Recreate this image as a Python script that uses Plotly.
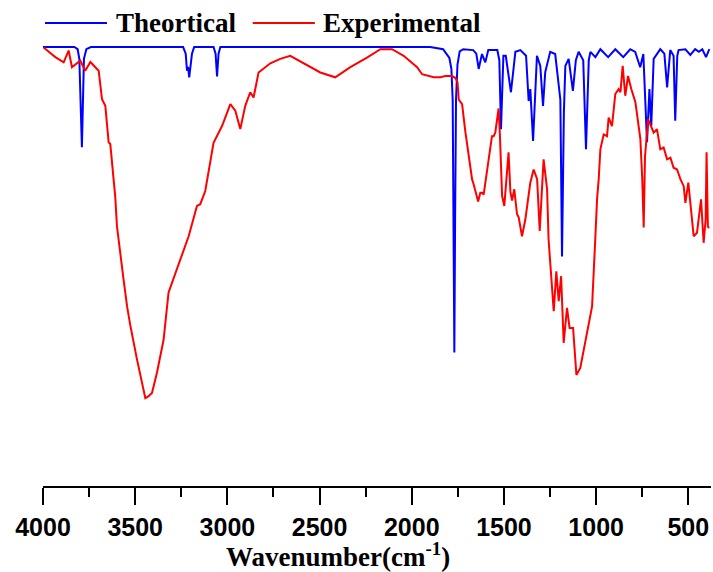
import plotly.graph_objects as go

# Theoretical spectrum (wavenumber cm-1, transmittance %)
theo_wn = [4000, 3830, 3812, 3803, 3789, 3778, 3765, 3740,
           3240, 3226, 3219, 3213, 3207, 3200, 3192, 3180,
           3075, 3064, 3056, 3048, 3038,
           1900, 1830, 1796, 1785, 1778, 1772, 1769, 1765, 1760, 1752, 1740, 1721,
           1667, 1650, 1637, 1619, 1601, 1585, 1536, 1525, 1516, 1503, 1490,
           1462, 1438, 1411, 1380, 1366, 1357, 1342, 1321, 1303, 1288, 1276,
           1249, 1222, 1203, 1194, 1185, 1175, 1167, 1149, 1126, 1110, 1095,
           1070, 1055, 1040, 1031, 1004, 977, 935, 896, 853, 815, 788, 761,
           744, 724, 711, 701, 688, 652, 630, 615, 598, 580, 571, 560, 553,
           516, 489, 463, 443, 424, 404, 386]
theo_t = [100, 100, 99.5, 97.3, 77.2, 97.3, 99.5, 100,
          100, 98.5, 94.6, 95.5, 93.1, 95.5, 98.5, 100,
          100, 98.5, 93.3, 98.5, 100,
          100, 99.5, 97.5, 95, 88, 55, 30.4, 60, 88, 96, 99, 99.5,
          99.3, 98.5, 95.0, 98.4, 96.5, 99.3, 99.3, 97, 81.3, 98.0, 98,
          89.7, 98.9, 99.3, 98, 87.7, 90.4, 78.6, 98.0, 95.7, 86.6, 94.3,
          98.9, 98.4, 91.9, 88, 52.3, 85, 95.7, 97.3, 90, 97, 98.9,
          97, 76.7, 97, 98.9, 97.7, 99.5, 97.7, 99.5, 97.7, 99.5, 98.9, 95.4,
          98.4, 78.3, 90.4, 82.0, 97.3, 99.5, 98.5, 90.8, 99.3, 98, 83.2, 98, 99.3,
          99.5, 98.2, 99.5, 98.9, 99.5, 97.7, 99.5]

# Experimental spectrum (wavenumber cm-1, transmittance %)
exp_wn = [3997, 3933, 3888, 3861, 3843, 3798, 3771, 3743, 3698, 3680, 3662, 3644,
          3635, 3608, 3599, 3581, 3563, 3544, 3527, 3490, 3472, 3454, 3445, 3429,
          3409, 3382, 3364, 3346, 3319, 3273, 3210, 3165,
          3147, 3120, 3075, 3029, 2984, 2957, 2930, 2903, 2876, 2858, 2831, 2767,
          2713, 2659, 2550, 2496, 2415, 2333, 2243, 2170, 2107, 2044, 1971, 1944,
          1881, 1845, 1818, 1782, 1764, 1752, 1745, 1735, 1727, 1709, 1682, 1673,
          1664, 1646, 1640, 1628, 1619, 1610, 1592, 1583, 1565, 1556, 1547, 1529,
          1522, 1510, 1498, 1475, 1465, 1456, 1444, 1429, 1420, 1402, 1384, 1357,
          1339, 1320, 1306, 1285, 1266, 1258, 1239, 1230, 1216, 1203, 1190, 1176,
          1158, 1144, 1125, 1107, 1086, 1068, 1041, 1022, 1004, 995, 986, 977,
          959, 941, 932, 914, 896, 878, 868, 856, 842, 827, 809, 787, 760, 750,
          742, 735, 718, 706, 688, 670, 652, 634, 615, 597, 580, 561, 543, 525,
          516, 500, 489, 471, 453, 431, 417, 406, 401, 394, 388]
exp_t = [99.9, 97.7, 96.5, 99.2, 95.4, 96.9, 94.6, 96.6, 94.6, 88.1, 86.6, 78.3,
         77.9, 65.8, 59.2, 52.4, 47.0, 40.9, 36.7, 28.8, 25.0, 21.2, 20.0, 20.4,
         21.2, 25.8, 29.5, 33.3, 44.1, 49.3, 56.9, 63.8,
         64.2, 67.2, 78.2, 82.0, 87.0, 85.5, 81.3, 86.6, 89.7, 88.5, 94.2, 96.3,
         97.3, 98.0, 95.4, 94.2, 93.1, 95.4, 97.6, 99.5, 99.5, 98.0, 95.4, 93.8,
         93.1, 93.1, 93.4, 93.4, 93.0, 92.0, 88.0, 87.4, 87.0, 80.6, 72.9, 69.9,
         68.7, 66.1, 64.8, 66.8, 66.8, 66.4, 71.4, 74.4, 79.7, 79.7, 80.5, 86.0,
         80.0, 66.1, 63.8, 76.0, 67.0, 65.0, 67.6, 61.9, 61.2, 56.9, 60.7, 69.1,
         72.1, 69.9, 58.1, 74.4, 67.6, 56.2, 44.1, 39.8, 48.9, 42.1, 47.8, 32.6,
         40.6, 36.0, 36.0, 25.3, 26.9, 30.7, 36.4, 40.9, 56.9, 65.3, 69.9, 76.7,
         80.1, 79.7, 83.9, 82.0, 89.3, 90.4, 89.7, 95.7, 88.9, 93.4, 90.4, 87.4, 79.0, 70.0,
         58.9, 75.0, 83.6, 82.4, 80.5, 81.3, 76.7, 77.1, 74.4, 74.8, 72.5, 72.1, 69.9, 68.3,
         64.5, 69.1, 64.0, 56.9, 57.7, 65.3, 55.4, 60.7, 76.0, 59.1, 58.7]

x_ticks = [4000, 3500, 3000, 2500, 2000, 1500, 1000, 500]
x_tick_labels = ["4000", "3500", "3000", "2500", "2000", "1500", "1000", "500"]
series_names = ["Theortical", "Experimental"]
series_colors = ["#0000FF", "#FF0000"]

fig = go.Figure()
fig.add_trace(go.Scatter(x=theo_wn, y=theo_t, mode="lines", name=series_names[0],
                         line=dict(color=series_colors[0], width=2), showlegend=False))
fig.add_trace(go.Scatter(x=exp_wn, y=exp_t, mode="lines", name=series_names[1],
                         line=dict(color=series_colors[1], width=2), showlegend=False))

# manual legend (long line samples)
leg_y = 1.038
for (x0, x1, tx), name, col in zip([(0.003, 0.0958, 0.1063), (0.314, 0.407, 0.4155)],
                                   series_names, series_colors):
    fig.add_shape(type="line", xref="paper", yref="paper", x0=x0, x1=x1, y0=leg_y, y1=leg_y,
                  line=dict(color=col, width=2))
    fig.add_annotation(xref="paper", yref="paper", x=tx, y=leg_y, text=name, showarrow=False,
                       xanchor="left", yanchor="middle",
                       font=dict(family="Liberation Serif", size=27, color="black", weight="bold"))

fig.add_annotation(xref="paper", yref="paper", x=0.4416, y=-0.155,
                   text="Wavenumber(cm<sup>-1</sup>)", showarrow=False,
                   xanchor="center", yanchor="middle",
                   font=dict(family="Liberation Serif", size=27, color="black", weight="bold"))

fig.update_layout(
    width=713, height=572,
    margin=dict(l=43, r=2, t=40, b=86),
    paper_bgcolor="white", plot_bgcolor="white",
    xaxis=dict(range=[4000, 377], autorange=False, tickmode="array",
               tickvals=x_ticks, ticktext=x_tick_labels,
               showline=True, linecolor="black", linewidth=2,
               ticks="outside", ticklen=17, tickwidth=2, tickcolor="black",
               ticklabelstandoff=1,
               showgrid=False, zeroline=False,
               tickfont=dict(family="Liberation Sans", size=25, color="black", weight="bold"),
               minor=dict(ticks="outside", ticklen=9, tickwidth=2, tickcolor="black",
                          dtick=250, tick0=0, showgrid=False)),
    yaxis=dict(range=[0, 101.6], autorange=False, visible=False),
)

fig.write_html("out.html")
